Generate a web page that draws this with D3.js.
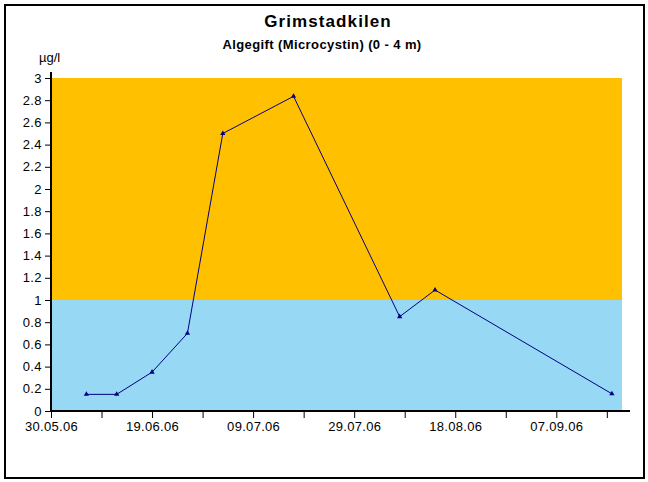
<!DOCTYPE html>
<html><head><meta charset="utf-8">
<script src="https://cdn.jsdelivr.net/npm/d3@7"></script>
<style>body{margin:0;background:#fff}svg{display:block}text{font-family:"Liberation Sans",Arial,sans-serif}</style>
</head><body><svg id="c" width="648" height="482"></svg>
<script>
const dates = ["06.06.06","12.06.06","19.06.06","26.06.06","03.07.06","17.07.06","07.08.06","14.08.06","18.09.06"];
const values = [0.15,0.15,0.35,0.70,2.50,2.835,0.85,1.09,0.155];
const bands = [{from:0,to:1,color:"#97d8f5"},{from:1,to:3,color:"#ffc000"}];
const yTicks = [0,0.2,0.4,0.6,0.8,1,1.2,1.4,1.6,1.8,2,2.2,2.4,2.6,2.8,3];
const xLabels = ["30.05.06","19.06.06","09.07.06","29.07.06","18.08.06","07.09.06"];
const title = "Grimstadkilen", subtitle = "Algegift (Microcystin) (0 - 4 m)", unit = "µg/l";

const parse = d3.timeParse("%d.%m.%y");
const fmt = d3.timeFormat("%d.%m.%y");
const svg = d3.select("#c");
svg.append("rect").attr("x",5).attr("y",5).attr("width",639).attr("height",473)
  .attr("fill","#fff").attr("stroke","#000").attr("stroke-width",2);

const x0 = parse("30.05.06");
const x = d3.scaleTime().domain([x0, d3.timeDay.offset(x0,113)]).range([51,622]);
const y = d3.scaleLinear().domain([0,3]).range([411,78]);

bands.forEach(b=>{
  svg.append("rect").attr("x",x.range()[0]).attr("y",y(b.to)).attr("width",x.range()[1]-x.range()[0])
    .attr("height",y(b.from)-y(b.to)).attr("fill",b.color);
});

// axes
const yAxis = d3.axisLeft(y).tickValues(yTicks).tickSize(6).tickPadding(3).tickFormat(d=>String(d));
const gy = svg.append("g").attr("transform","translate(51,0)").call(yAxis);
gy.select(".domain").remove();
gy.selectAll("text").attr("font-size",13).attr("letter-spacing","0.4px").attr("font-family","Liberation Sans, Arial").attr("fill","#000");
svg.append("line").attr("x1",51).attr("x2",51).attr("y1",72).attr("y2",412).attr("stroke","#000").attr("stroke-width",2);

const minorTicks = d3.range(0,120,10).map(d=>d3.timeDay.offset(x0,d)).filter(d=>x(d)<=630);
const xAxis = d3.axisBottom(x).tickValues(minorTicks).tickSize(7).tickPadding(4)
  .tickFormat(d=> xLabels.includes(fmt(d)) ? fmt(d) : "");
const gx = svg.append("g").attr("transform","translate(0,411)").call(xAxis);
gx.select(".domain").remove();
gx.selectAll("text").attr("font-size",13).attr("letter-spacing","0.3px").attr("font-family","Liberation Sans, Arial").attr("fill","#000");
svg.append("line").attr("x1",50).attr("x2",630).attr("y1",411).attr("y2",411).attr("stroke","#000").attr("stroke-width",2);

// series
const pts = dates.map((d,i)=>({d:parse(d),v:values[i]}));
svg.append("path").datum(pts).attr("fill","none").attr("stroke","#000080").attr("stroke-width",1)
  .attr("d", d3.line().x(p=>x(p.d)).y(p=>y(p.v)));
svg.selectAll(".m").data(pts).enter().append("path")
  .attr("transform",p=>`translate(${x(p.d)},${y(p.v)})`)
  .attr("d", d3.symbol(d3.symbolTriangle, 12)).attr("fill","#000080");

// titles
svg.append("text").attr("x",328).attr("y",27).attr("text-anchor","middle").attr("font-size",17)
  .attr("letter-spacing","1.1px").attr("font-weight","bold").text(title);
svg.append("text").attr("x",322).attr("y",49).attr("text-anchor","middle").attr("font-size",13)
  .attr("letter-spacing","0.4px").attr("font-weight","bold").text(subtitle);
svg.append("text").attr("x",39).attr("y",62).attr("font-size",13).text(unit);
</script></body></html>
